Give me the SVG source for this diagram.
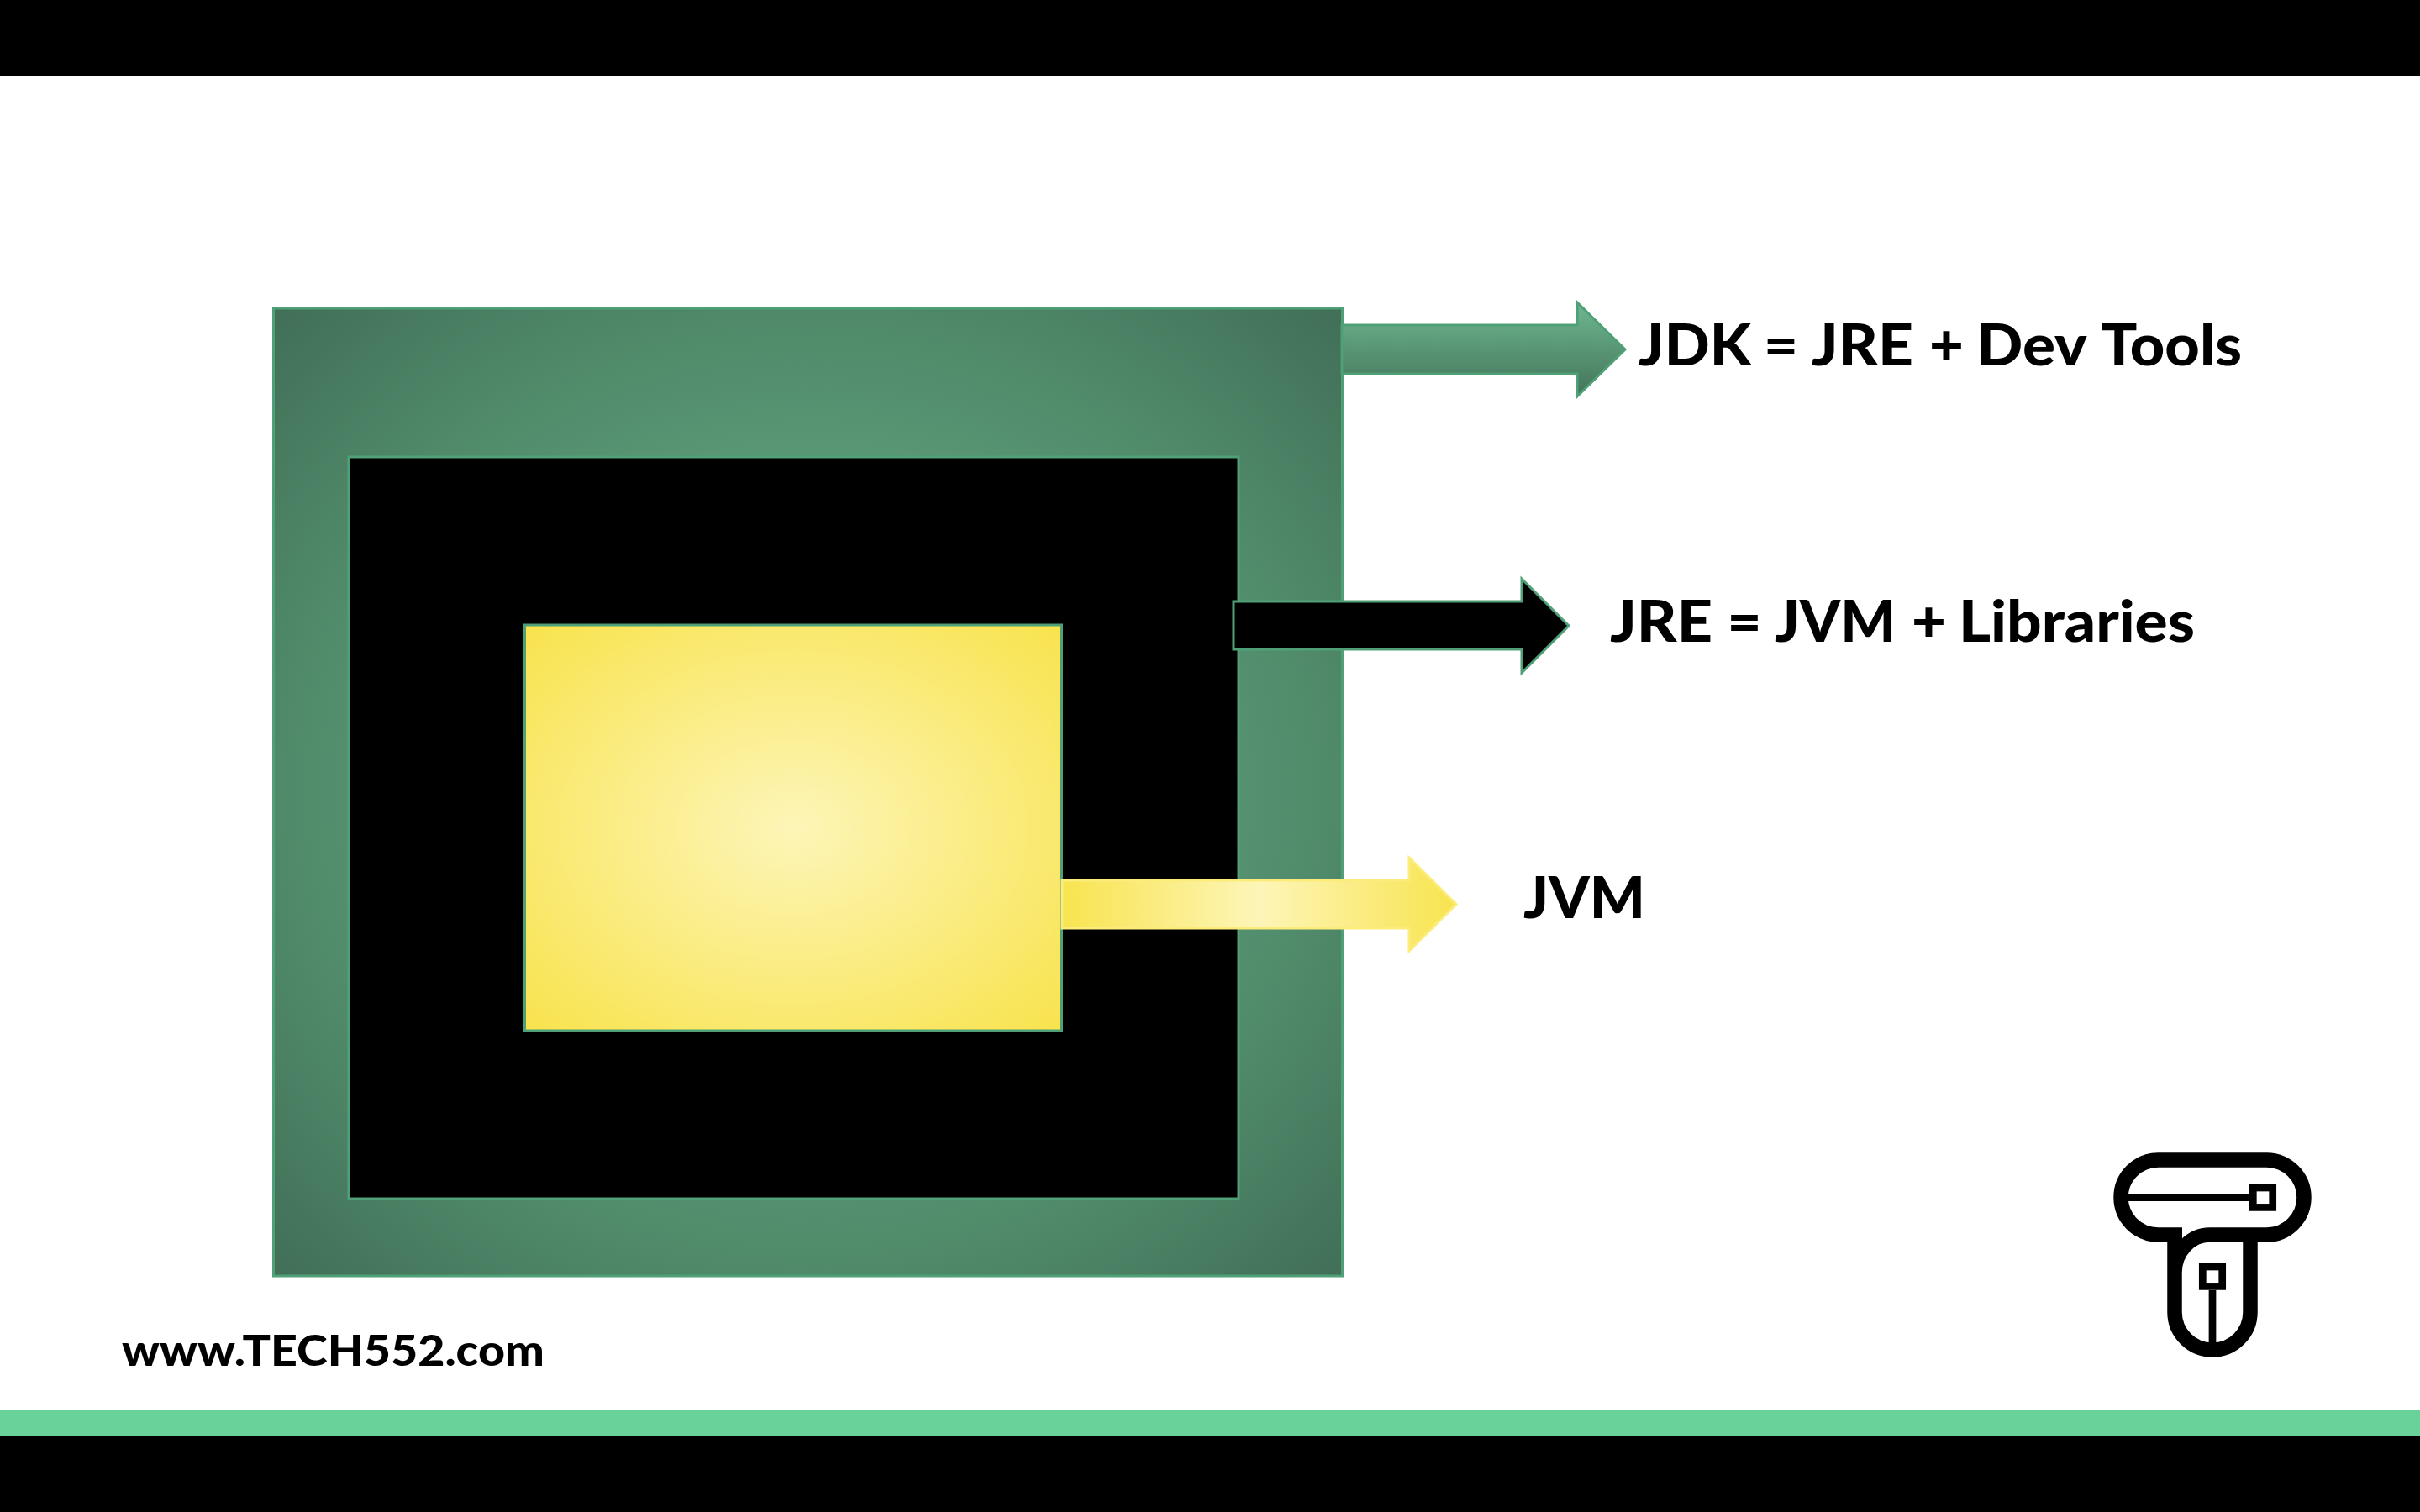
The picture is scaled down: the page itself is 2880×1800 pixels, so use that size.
<svg xmlns="http://www.w3.org/2000/svg" width="2880" height="1800" viewBox="0 0 2880 1800">
<style>
.lbl{font-family:"Lato","Liberation Sans",sans-serif;font-weight:900;fill:#000}
.box{stroke:#4fa077;stroke-width:3}
.logo{fill:none;stroke:#000}
</style>
<defs>
<radialGradient id="gGreen" cx="0.5" cy="0.5" r="0.71"><stop offset="0" stop-color="#6fb892"/><stop offset="0.7" stop-color="#4f8969"/><stop offset="1" stop-color="#416e58"/></radialGradient>
<radialGradient id="gYellow" cx="0.5" cy="0.5" r="0.71"><stop offset="0" stop-color="#fdf5b8"/><stop offset="1" stop-color="#f8e34c"/></radialGradient>
<linearGradient id="gYellowA" x1="0" y1="0" x2="1" y2="0"><stop offset="0" stop-color="#f8e44f"/><stop offset="0.5" stop-color="#fdf5b8"/><stop offset="1" stop-color="#f8e44f"/></linearGradient>
<linearGradient id="gArrow" x1="0" y1="0" x2="0" y2="1"><stop offset="0" stop-color="#6fb790"/><stop offset="1" stop-color="#42745a"/></linearGradient>
</defs>
<rect width="2880" height="1800" fill="#fff"/>
<rect id="bar-top" x="0" y="0" width="2880" height="90" fill="#000"/>
<rect id="bar-accent" x="0" y="1679" width="2880" height="31" fill="#69d19a"/>
<rect id="bar-bottom" x="0" y="1710" width="2880" height="90" fill="#000"/>
<g id="node-jdk"><rect class="box" x="325.500" y="367" width="1272" height="1152" fill="url(#gGreen)"/></g>
<g id="node-jre"><rect class="box" x="415" y="544" width="1059" height="883" fill="#000"/></g>
<g id="node-jvm"><rect class="box" x="624.500" y="744" width="639" height="483" fill="url(#gYellow)"/></g>
<g id="connectors">
<polygon class="box" points="1597,387 1877,387 1877,360 1934,416 1877,472 1877,445 1597,445" fill="url(#gArrow)"/>
<polygon class="box" points="1468,716 1811,716 1811,689 1867,745 1811,801 1811,773 1468,773" fill="#000"/>
<polygon points="1264,1048 1677,1048 1677,1021 1733,1076.500 1677,1132 1677,1105 1264,1105" fill="url(#gYellowA)" stroke="#fbec7c" stroke-width="3"/>
</g>
<g id="label-jdk"><text class="lbl" y="435" font-size="68"><tspan x="1950" textLength="134" lengthAdjust="spacingAndGlyphs">JDK</tspan> <tspan x="2099" textLength="41" lengthAdjust="spacingAndGlyphs">=</tspan> <tspan x="2156" textLength="121" lengthAdjust="spacingAndGlyphs">JRE</tspan> <tspan x="2296" textLength="41" lengthAdjust="spacingAndGlyphs">+</tspan> <tspan x="2352" textLength="130" lengthAdjust="spacingAndGlyphs">Dev</tspan> <tspan x="2500" textLength="168" lengthAdjust="spacingAndGlyphs">Tools</tspan></text></g>
<g id="label-jre"><text class="lbl" y="764" font-size="68"><tspan x="1916" textLength="122" lengthAdjust="spacingAndGlyphs">JRE</tspan> <tspan x="2055.500" textLength="41" lengthAdjust="spacingAndGlyphs">=</tspan> <tspan x="2112" textLength="144" lengthAdjust="spacingAndGlyphs">JVM</tspan> <tspan x="2275" textLength="41" lengthAdjust="spacingAndGlyphs">+</tspan> <tspan x="2331" textLength="281" lengthAdjust="spacingAndGlyphs">Libraries</tspan></text></g>
<g id="label-jvm"><text class="lbl" x="1813" y="1092.500" font-size="68" textLength="145" lengthAdjust="spacingAndGlyphs">JVM</text></g>
<g id="label-url"><text class="lbl" x="145" y="1626" font-size="52" textLength="503" lengthAdjust="spacingAndGlyphs">www.TECH552.com</text></g>
<g id="logo">
<path class="logo" stroke-width="17.500" d="M2597 1470H2568.500A44.500 44.500 0 0 1 2568.500 1381H2697.500A44.500 44.500 0 0 1 2697.500 1470H2630A42 45 0 0 0 2588 1515V1562A45 45 0 0 0 2678 1562V1470M2588 1470V1520"/>
<path class="logo" stroke-width="8.700" d="M2524 1425.700H2677M2633 1536V1604"/>
<rect class="logo" stroke-width="8.700" x="2681.300" y="1414" width="23.400" height="23.400"/>
<rect class="logo" stroke-width="8.700" x="2621.300" y="1508" width="23.400" height="23.400"/>
</g>
</svg>
